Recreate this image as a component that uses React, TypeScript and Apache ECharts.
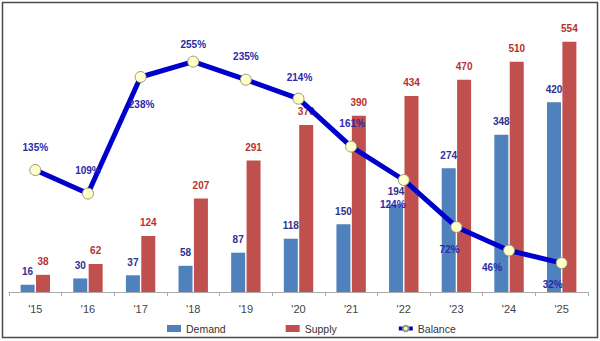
import React, { useEffect, useRef } from "react";
import * as echarts from "echarts";

const categories = ["'15", "'16", "'17", "'18", "'19", "'20", "'21", "'22", "'23", "'24", "'25"];
const demand = [16, 30, 37, 58, 87, 118, 150, 194, 274, 348, 420];
const supply = [38, 62, 124, 207, 291, 370, 390, 434, 470, 510, 554];
const balance = [135, 109, 238, 255, 235, 214, 161, 124, 72, 46, 32];

// label placement for the balance line (style only)
const balanceLabelPlace: [string, number, number][] = [
  ["top", 0, -6],
  ["top", 0, -6],
  ["bottom", 1, 10],
  ["top", 0, 0],
  ["top", 0, -6],
  ["top", 1, -4],
  ["top", 1, -6],
  ["bottom", -11, 8],
  ["bottom", -7, 6],
  ["bottom", -17, 0],
  ["bottom", -9, 4],
];

export default function App() {
  const ref = useRef<HTMLDivElement>(null);
  useEffect(() => {
    if (!ref.current) return;
    const chart = echarts.init(ref.current, undefined, { renderer: "svg" });
    const font = "'Liberation Sans', Arial, sans-serif";
    chart.setOption({
      animation: false,
      backgroundColor: "#ffffff",
      textStyle: { fontFamily: font },
      graphic: [
        {
          type: "rect",
          shape: { x: 2.5, y: 2.5, width: 595, height: 335 },
          style: { fill: "none", stroke: "#4a4a4a", lineWidth: 1.5 },
          silent: true,
        },
      ],
      legend: {
        left: 162,
        top: 318,
        itemGap: 60,
        itemWidth: 14,
        itemHeight: 7,
        textStyle: { fontSize: 10.5, color: "#333", fontFamily: font },
        data: [
          { name: "Demand", icon: "rect" },
          { name: "Supply", icon: "rect" },
          { name: "Balance", lineStyle: { width: 4, color: "#0000cc" } },
        ],
      },
      grid: { left: 9, right: 12, top: 21, bottom: 49 },
      xAxis: {
        type: "category",
        data: categories,
        axisLine: { lineStyle: { color: "#aaaaaa", width: 1 } },
        axisTick: { show: true, length: 4, lineStyle: { color: "#aaaaaa" } },
        axisLabel: { color: "#444", fontSize: 11, margin: 11 },
      },
      yAxis: [
        { type: "value", min: 0, max: 600, show: false, splitLine: { show: false } },
        { type: "value", min: 0, max: 300, show: false, splitLine: { show: false } },
      ],
      series: [
        {
          name: "Demand",
          type: "bar",
          data: demand,
          barWidth: 14,
          barGap: "10%",
          itemStyle: { color: "#4f81bd" },
          label: {
            show: true,
            position: "top",
            distance: 8,
            color: "#2e3192",
            fontWeight: "bold",
            fontSize: 10,
          },
        },
        {
          name: "Supply",
          type: "bar",
          data: supply,
          barWidth: 14,
          itemStyle: { color: "#c0504d" },
          label: {
            show: true,
            position: "top",
            distance: 8,
            color: "#b8312f",
            fontWeight: "bold",
            fontSize: 10,
          },
        },
        {
          name: "Balance",
          type: "line",
          yAxisIndex: 1,
          data: balance.map((v, i) => ({
            value: v,
            label: {
              position: balanceLabelPlace[i][0],
              offset: [balanceLabelPlace[i][1], balanceLabelPlace[i][2]],
            },
          })),
          symbol: "circle",
          symbolSize: 11,
          lineStyle: { color: "#0000cc", width: 5 },
          itemStyle: { color: "#ffffcc", borderColor: "#999977", borderWidth: 1 },
          label: {
            show: true,
            formatter: "{c}%",
            color: "#2a2aaa",
            fontWeight: "bold",
            fontSize: 10,
            distance: 6,
          },
          z: 5,
        },
      ],
    });
    return () => chart.dispose();
  }, []);
  return (
    <div
      ref={ref}
      style={{ position: "fixed", left: 0, top: 0, width: 600, height: 341 }}
    />
  );
}
